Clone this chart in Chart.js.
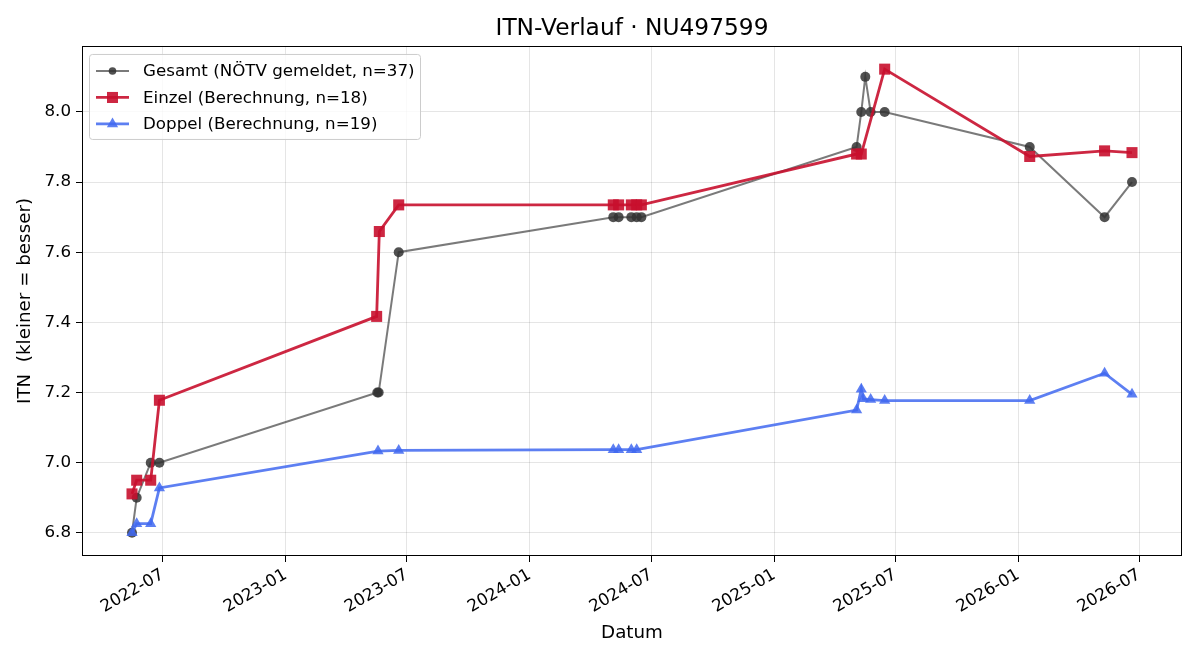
<!DOCTYPE html>
<html>
<head>
  <title>ITN-Verlauf</title>
  <script src="https://cdn.jsdelivr.net/npm/chart.js@4.4.1/dist/chart.umd.min.js"></script>
  <style>
    body { margin: 0; background: #fff; }
    #wrap { width: 1200px; height: 660px; }
  </style>
</head>
<body>
  <div id="wrap"><canvas id="itn" width="1200" height="660"></canvas></div>
  <script>
    // Data
    const gesamtDates = ['2022-05-16','2022-05-23','2022-06-13','2022-06-26','2023-05-18','2023-05-20','2023-06-19',
      '2024-05-05','2024-05-13','2024-06-01','2024-06-09','2024-06-16',
      '2025-05-04','2025-05-11','2025-05-17','2025-05-25','2025-06-15','2026-01-18','2026-05-10','2026-06-20'];
    const gesamtValues = [6.8, 6.9, 7.0, 7.0, 7.2, 7.2, 7.6,
      7.7, 7.7, 7.7, 7.7, 7.7,
      7.9, 8.0, 8.1, 8.0, 8.0, 7.9, 7.7, 7.8];

    const einzelDates = ['2022-05-16','2022-05-23','2022-06-13','2022-06-26','2023-05-17','2023-05-21','2023-06-19',
      '2024-05-05','2024-05-13','2024-06-01','2024-06-09','2024-06-16',
      '2025-05-04','2025-05-11','2025-06-15','2026-01-18','2026-05-10','2026-06-20'];
    const einzelValues = [6.911, 6.950, 6.950, 7.178, 7.417, 7.659, 7.735,
      7.735, 7.735, 7.735, 7.735, 7.735,
      7.880, 7.880, 8.122, 7.873, 7.889, 7.884];

    const doppelDates = ['2022-05-16','2022-05-23','2022-06-13','2022-06-26','2023-05-19','2023-06-19',
      '2024-05-05','2024-05-13','2024-06-01','2024-06-09',
      '2025-05-04','2025-05-11','2025-05-14','2025-05-25','2025-06-15','2026-01-18','2026-05-10','2026-06-20'];
    const doppelValues = [6.800, 6.826, 6.826, 6.928, 7.033, 7.035,
      7.037, 7.037, 7.037, 7.037,
      7.150, 7.209, 7.182, 7.180, 7.177, 7.177, 7.255, 7.195];

    const xTickDates = ['2022-07-01','2023-01-01','2023-07-01','2024-01-01','2024-07-01',
      '2025-01-01','2025-07-01','2026-01-01','2026-07-01'];
    const yTicks = [6.8, 7.0, 7.2, 7.4, 7.6, 7.8, 8.0];

    const legendLabels = ['Gesamt (NÖTV gemeldet, n=37)', 'Einzel (Berechnung, n=18)', 'Doppel (Berechnung, n=19)'];

    const FONT = 'DejaVu Sans';
    const toPoints = (dates, vals) => dates.map((d, i) => ({ x: Date.parse(d), y: vals[i] }));

    // matplotlib-like 5% margins
    const allX = [...gesamtDates, ...einzelDates, ...doppelDates].map(d => Date.parse(d));
    const allY = [...gesamtValues, ...einzelValues, ...doppelValues];
    const xMin = Math.min(...allX), xMax = Math.max(...allX);
    const yMin = Math.min(...allY), yMax = Math.max(...allY);
    const xPad = (xMax - xMin) * 0.05, yPad = (yMax - yMin) * 0.05;

    const frameAndLegend = {
      id: 'frameAndLegend',
      afterDatasetsDraw(chart) {
        const { ctx, chartArea: a } = chart;
        ctx.save();
        ctx.strokeStyle = '#000';
        ctx.lineWidth = 1;
        ctx.strokeRect(Math.round(a.left) + 0.5, Math.round(a.top) + 0.5,
          Math.round(a.right - a.left) - 1, Math.round(a.bottom - a.top) - 1);

        // legend box
        const bx = a.left + 7, by = a.top + 8, bw = 331, bh = 85;
        ctx.fillStyle = 'rgba(255,255,255,0.8)';
        ctx.strokeStyle = '#cccccc';
        ctx.beginPath();
        ctx.roundRect(bx + 0.5, by + 0.5, bw, bh, 3);
        ctx.fill();
        ctx.stroke();

        ctx.font = '16.7px ' + FONT;
        ctx.textBaseline = 'middle';
        chart.data.datasets.forEach((ds, i) => {
          const y = by + 17 + i * 26.5;
          ctx.strokeStyle = ds.borderColor;
          ctx.lineWidth = ds.borderWidth;
          ctx.beginPath();
          ctx.moveTo(bx + 7, y);
          ctx.lineTo(bx + 40, y);
          ctx.stroke();
          ctx.fillStyle = ds.pointBackgroundColor;
          ctx.strokeStyle = ds.pointBorderColor;
          const r = ds.pointStyle === 'circle' ? 3.8 : ds.pointRadius;
          Chart.helpers.drawPoint(ctx, {
            pointStyle: ds.pointStyle, radius: r, rotation: 0, borderWidth: 0
          }, bx + 23.5, y);
          ctx.fillStyle = '#000';
          ctx.fillText(legendLabels[i], bx + 54, y + 1);
        });
        ctx.restore();
      }
    };

    new Chart(document.getElementById('itn'), {
      type: 'line',
      data: {
        datasets: [
          {
            label: legendLabels[0],
            data: toPoints(gesamtDates, gesamtValues),
            borderColor: 'rgba(51,51,51,0.65)',
            borderWidth: 2,
            pointStyle: 'circle',
            pointRadius: 5,
            pointBackgroundColor: 'rgba(51,51,51,0.85)',
            pointBorderColor: 'rgba(51,51,51,0.85)',
            pointBorderWidth: 0,
            tension: 0,
            order: 2
          },
          {
            label: legendLabels[1],
            data: toPoints(einzelDates, einzelValues),
            borderColor: 'rgba(200,16,46,0.9)',
            borderWidth: 2.8,
            pointStyle: 'rect',
            pointRadius: 7.8,
            pointBackgroundColor: 'rgba(200,16,46,0.9)',
            pointBorderColor: 'rgba(200,16,46,0.9)',
            pointBorderWidth: 0,
            tension: 0,
            order: 1
          },
          {
            label: legendLabels[2],
            data: toPoints(doppelDates, doppelValues),
            borderColor: 'rgba(65,105,240,0.85)',
            borderWidth: 2.8,
            pointStyle: 'triangle',
            pointRadius: 6.5,
            pointBackgroundColor: 'rgba(65,105,240,0.85)',
            pointBorderColor: 'rgba(65,105,240,0.85)',
            pointBorderWidth: 0,
            tension: 0,
            order: 0
          }
        ]
      },
      options: {
        responsive: false,
        animation: false,
        devicePixelRatio: 1,
        layout: { padding: { left: 0, right: 18, top: 0, bottom: 0 } },
        plugins: {
          legend: { display: false },
          tooltip: { enabled: false },
          title: {
            display: true,
            fullSize: false,
            text: 'ITN-Verlauf · NU497599',
            color: '#000',
            font: { family: FONT, size: 23.3, weight: 'normal', lineHeight: 1.2 },
            padding: { top: 15, bottom: 3 }
          }
        },
        scales: {
          x: {
            type: 'linear',
            min: xMin - xPad,
            max: xMax + xPad,
            afterBuildTicks: s => { s.ticks = xTickDates.map(d => ({ value: Date.parse(d) })); },
            afterFit: s => { s.height = 104; },
            ticks: {
              color: '#000',
              font: { family: FONT, size: 16.7 },
              maxRotation: 30,
              minRotation: 30,
              padding: 3,
              callback: v => {
                const d = new Date(v);
                return d.getUTCFullYear() + '-' + String(d.getUTCMonth() + 1).padStart(2, '0');
              }
            },
            grid: { color: 'rgba(0,0,0,0.1)', tickColor: '#000', tickLength: 6, lineWidth: 1 },
            border: { display: false },
            title: {
              display: true,
              text: 'Datum',
              color: '#000',
              font: { family: FONT, size: 18.3 },
              padding: { top: 0, bottom: 16 }
            }
          },
          y: {
            type: 'linear',
            min: yMin - yPad,
            max: yMax + yPad,
            afterBuildTicks: s => { s.ticks = yTicks.map(v => ({ value: v })); },
            afterFit: s => { s.width = 82; },
            ticks: {
              color: '#000',
              font: { family: FONT, size: 16.7 },
              padding: 5,
              callback: v => v.toFixed(1)
            },
            grid: { color: 'rgba(0,0,0,0.1)', tickColor: '#000', tickLength: 6, lineWidth: 1 },
            border: { display: false },
            title: {
              display: true,
              text: 'ITN  (kleiner = besser)',
              color: '#000',
              font: { family: FONT, size: 18.3 },
              padding: { top: 14, bottom: 0 }
            }
          }
        }
      },
      plugins: [frameAndLegend]
    });
  </script>
</body>
</html>
